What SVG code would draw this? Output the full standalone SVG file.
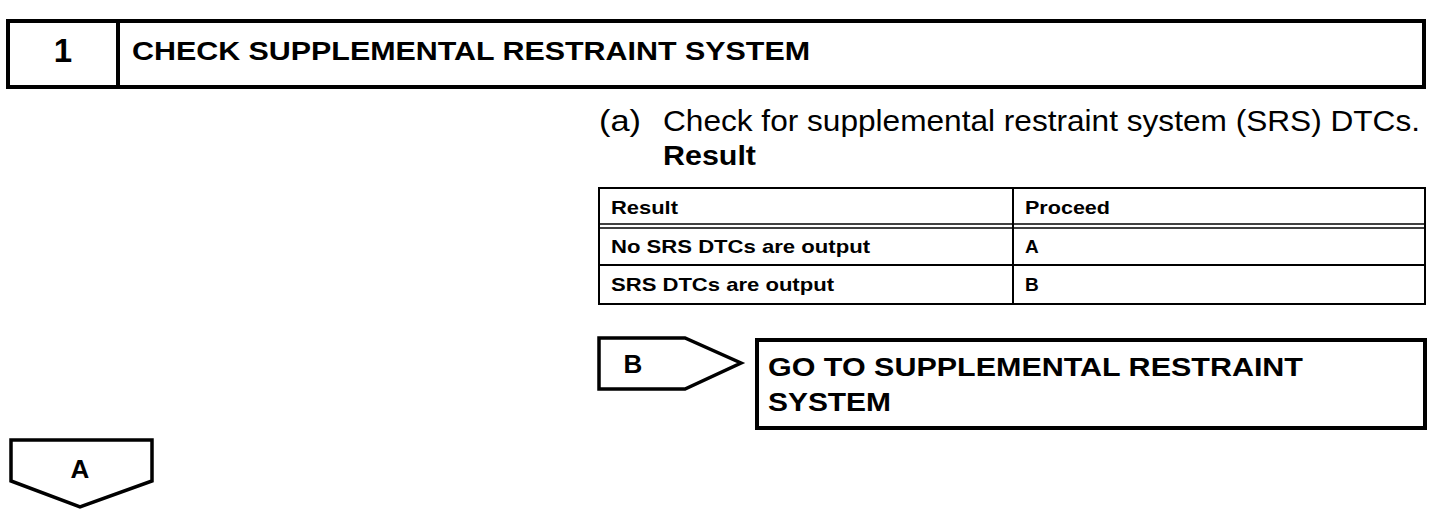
<svg xmlns="http://www.w3.org/2000/svg" width="1456" height="522" viewBox="0 0 1456 522">
<style>
.b{font-family:"Liberation Sans",Arial,sans-serif;font-weight:bold;fill:#000}
.r{font-family:"Liberation Sans",Arial,sans-serif;fill:#000}
.box{fill:none;stroke:#000;stroke-width:4}
.tl{stroke:#000;stroke-width:2;fill:none}
.tag{fill:none;stroke:#000;stroke-width:3.5}
</style>
<rect width="1456" height="522" fill="#fff"/>
<g id="header">
<rect class="box" x="8" y="21" width="1416" height="66"/>
<line x1="118" y1="21" x2="118" y2="87" stroke="#000" stroke-width="4"/>
<text class="b" x="63" y="62" font-size="33" text-anchor="middle">1</text>
<text class="b" x="132" y="60" font-size="26" textLength="678" lengthAdjust="spacingAndGlyphs">CHECK SUPPLEMENTAL RESTRAINT SYSTEM</text>
</g>
<g id="instruction">
<text class="r" x="599" y="131" font-size="29" textLength="42" lengthAdjust="spacingAndGlyphs">(a)</text>
<text class="r" x="663" y="131" font-size="29" textLength="757" lengthAdjust="spacingAndGlyphs">Check for supplemental restraint system (SRS) DTCs.</text>
<text class="b" x="663" y="165" font-size="28" textLength="93" lengthAdjust="spacingAndGlyphs">Result</text>
</g>
<g id="table">
<rect class="tl" x="599" y="188" width="826" height="116"/>
<line class="tl" x1="1013" y1="188" x2="1013" y2="304"/>
<line x1="599" y1="224" x2="1425" y2="224" stroke="#000" stroke-width="1.5"/>
<line x1="599" y1="228" x2="1425" y2="228" stroke="#000" stroke-width="1.5"/>
<line class="tl" x1="599" y1="265" x2="1425" y2="265"/>
<text class="b" x="611" y="214" font-size="19" textLength="67" lengthAdjust="spacingAndGlyphs">Result</text>
<text class="b" x="1025" y="214" font-size="19" textLength="85" lengthAdjust="spacingAndGlyphs">Proceed</text>
<text class="b" x="611" y="253" font-size="19" textLength="259" lengthAdjust="spacingAndGlyphs">No SRS DTCs are output</text>
<text class="b" x="1025" y="253" font-size="19">A</text>
<text class="b" x="611" y="291" font-size="19" textLength="223" lengthAdjust="spacingAndGlyphs">SRS DTCs are output</text>
<text class="b" x="1025" y="291" font-size="19">B</text>
</g>
<g id="tag-b">
<polygon class="tag" points="599,338 685,338 741,363 685,389 599,389"/>
<text class="b" x="633" y="373" font-size="26" text-anchor="middle">B</text>
</g>
<g id="goto">
<rect class="box" x="757" y="340" width="668" height="88"/>
<text class="b" x="768" y="376" font-size="26" textLength="535" lengthAdjust="spacingAndGlyphs">GO TO SUPPLEMENTAL RESTRAINT</text>
<text class="b" x="768" y="411" font-size="26" textLength="123" lengthAdjust="spacingAndGlyphs">SYSTEM</text>
</g>
<g id="tag-a">
<polygon class="tag" points="11,440 152,440 152,481 80,507 11,481"/>
<text class="b" x="80" y="478" font-size="26" text-anchor="middle">A</text>
</g>
<g id="connectors"></g>
</svg>
